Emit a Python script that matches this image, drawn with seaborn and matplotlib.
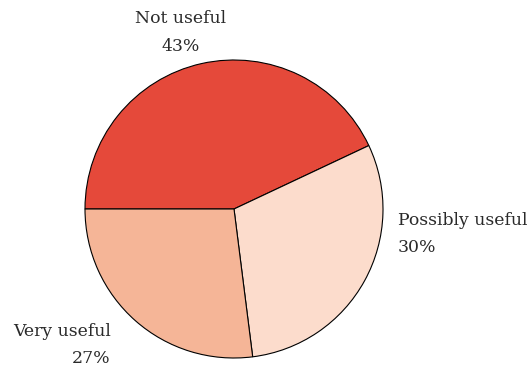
import matplotlib
matplotlib.use("Agg")
import matplotlib.pyplot as plt
import seaborn as sns
import numpy as np

categories = ["Not useful", "Possibly useful", "Very useful"]
values = [43, 30, 27]
pct_labels = ["43%", "30%", "27%"]

colors = ["#e5493a", "#fcdccc", "#f5b597"]

sns.set_style("white")
plt.rcParams["font.family"] = ["DejaVu Serif"]

W, H = 528, 371
fig = plt.figure(figsize=(W / 100, H / 100), dpi=100)
ax = fig.add_axes([0, 0, 1, 1])

cx, cy, r = 234, 209, 149
wedges, _ = ax.pie(values, colors=colors, startangle=180, counterclock=False,
                   radius=1, center=(0, 0),
                   wedgeprops=dict(edgecolor="black", linewidth=0.8))
ax.set_xlim(-cx / r, (W - cx) / r)
ax.set_ylim(-(H - cy) / r, cy / r)
ax.set_aspect("equal", adjustable="datalim")
ax.axis("off")

# label layout: (radial distance, angle in degrees, ha)
layout = [(1.237, 106.7, "center"), (1.10, -8.8, "left"), (1.231, -132.1, "right")]
for cat, pct, (d, ang, ha) in zip(categories, pct_labels, layout):
    x = d * np.cos(np.deg2rad(ang))
    y = d * np.sin(np.deg2rad(ang))
    if ha == "left":
        x = 1.101
    elif ha == "right":
        x = -0.826
    ax.text(x, y, f"{cat}\n{pct}", ha=ha, va="center", multialignment=ha,
            fontsize=12.4, color="#2a2a2a", linespacing=1.8)

fig.savefig("out.png", dpi=100)
